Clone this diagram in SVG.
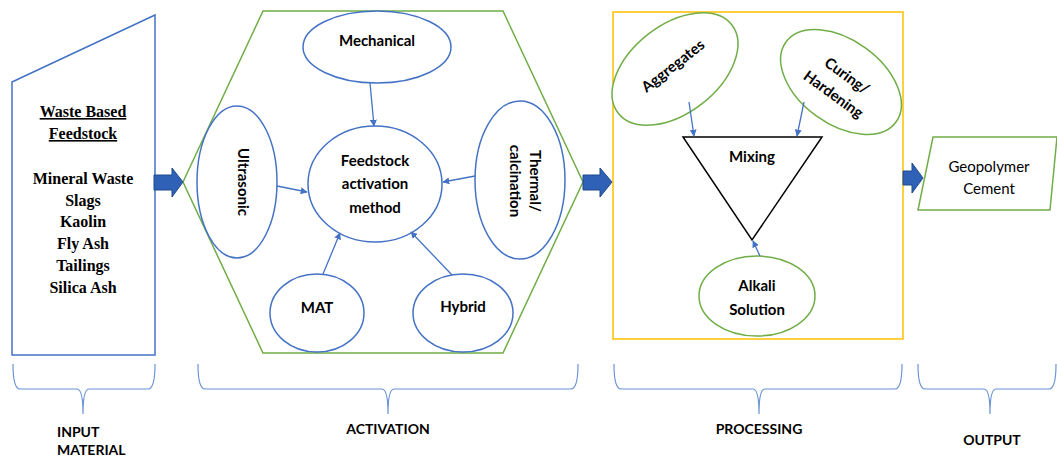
<svg xmlns="http://www.w3.org/2000/svg" width="1057" height="458" viewBox="0 0 1057 458">
<style>
.bl{fill:#fff;stroke:#4472C4;stroke-width:1.5}
.gr{fill:#fff;stroke:#70AD47;stroke-width:1.5}
.t{font-family:Lato,"Liberation Sans",sans-serif;font-weight:bold;font-size:15px;fill:#000;text-anchor:middle}
.n{font-family:Lato,"Liberation Sans",sans-serif;font-size:15px;fill:#000;text-anchor:middle}
.tm{font-family:"Liberation Serif",serif;font-weight:bold;font-size:16px;fill:#000;text-anchor:middle}
.lb{font-family:Lato,"Liberation Sans",sans-serif;font-weight:bold;font-size:14px;fill:#000}
.con{stroke:#4472C4;stroke-width:1.3;fill:none;marker-end:url(#ah)}
.brace{stroke:#6A94D4;stroke-width:1.2;fill:none}
.big{fill:#2F62B6;stroke:#1F4A8E;stroke-width:1}
</style>
<defs>
<marker id="ah" viewBox="0 0 10 10" refX="9" refY="5" markerWidth="7" markerHeight="7" markerUnits="userSpaceOnUse" orient="auto">
<path d="M0,0 L10,5 L0,10 Z" fill="#4472C4"/>
</marker>
</defs>
<rect width="1057" height="458" fill="#fff"/>

<g id="input">
<polygon points="12,82 155,15 155,355 12,355" class="bl"/>
<text class="tm" x="83" y="117" text-decoration="underline">Waste Based</text>
<text class="tm" x="83" y="139" text-decoration="underline">Feedstock</text>
<text class="tm" x="83" y="184">Mineral Waste</text>
<text class="tm" x="83" y="206">Slags</text>
<text class="tm" x="83" y="227">Kaolin</text>
<text class="tm" x="83" y="249">Fly Ash</text>
<text class="tm" x="83" y="271">Tailings</text>
<text class="tm" x="83" y="293">Silica Ash</text>
</g>

<g id="activation">
<polygon points="263,11 503,11 583,182 503,353 263,353 183,182" fill="none" stroke="#70AD47" stroke-width="1.5"/>
</g>
<g id="mechanical">
<ellipse cx="377" cy="47" rx="74" ry="36" class="bl"/>
<text class="t" x="377" y="46">Mechanical</text>
</g>
<g id="feedstock">
<ellipse cx="375" cy="184" rx="67" ry="58" class="bl"/>
<text class="t" x="375" y="166">Feedstock</text>
<text class="t" x="375" y="189">activation</text>
<text class="t" x="375" y="213">method</text>
</g>
<g id="ultrasonic">
<ellipse cx="237" cy="182" rx="40" ry="76" class="bl"/>
<text class="t" transform="translate(243,182) rotate(90)" x="0" y="5">Ultrasonic</text>
</g>
<g id="thermal">
<ellipse cx="520" cy="180" rx="45" ry="79" class="bl"/>
<g transform="translate(525,181) rotate(90)">
<text class="t" x="0" y="-5">Thermal/</text>
<text class="t" x="0" y="15">calcination</text>
</g>
</g>
<g id="mat">
<ellipse cx="317" cy="313" rx="47" ry="39" class="bl"/>
<text class="t" x="317" y="313">MAT</text>
</g>
<g id="hybrid">
<ellipse cx="463" cy="313" rx="50" ry="39" class="bl"/>
<text class="t" x="463" y="312">Hybrid</text>
</g>

<g id="processing">
<rect x="613" y="12" width="290" height="327" fill="none" stroke="#FFC000" stroke-width="1.5"/>
</g>
<g id="aggregates">
<ellipse cx="675" cy="69" rx="72" ry="44" transform="rotate(-38 675 69)" class="gr"/>
<text class="t" transform="translate(673,66) rotate(-38)" x="0" y="5">Aggregates</text>
</g>
<g id="curing">
<ellipse cx="841" cy="82" rx="68" ry="42" transform="rotate(36 841 82)" class="gr"/>
<g transform="translate(841,84) rotate(36)">
<text class="t" x="0" y="-5">Curing/</text>
<text class="t" x="0" y="18">Hardening</text>
</g>
</g>
<g id="mixing">
<polygon points="683,137 822,137 752,240" fill="#fff" stroke="#000" stroke-width="1.5"/>
<text class="t" x="752" y="162">Mixing</text>
</g>
<g id="alkali">
<ellipse cx="757" cy="296" rx="58" ry="40" class="gr"/>
<text class="t" x="757" y="291">Alkali</text>
<text class="t" x="757" y="315">Solution</text>
</g>

<g id="output">
<polygon points="933,137 1057,137 1050,210 918,210" class="gr"/>
<text class="n" x="989" y="172">Geopolymer</text>
<text class="n" x="989" y="194">Cement</text>
</g>

<g id="connectors">
<path class="con" d="M370,83 L374,126"/>
<path class="con" d="M277,186 L307,192"/>
<path class="con" d="M475,176 L443,182"/>
<path class="con" d="M323,274 L340,233"/>
<path class="con" d="M452,275 L411,232"/>
<path class="con" d="M689,102 L694,136"/>
<path class="con" d="M804,102 L797,136"/>
<path class="con" d="M760,256 L753,241"/>
<path class="big" d="M154,175 H172 V168 L183,182 L172,197 V190 H154 Z"/>
<path class="big" d="M583,175 H600 V168 L612,182 L600,197 V190 H583 Z"/>
<path class="big" d="M903,171 H912 V163 L923,178 L912,193 V185 H903 Z"/>
</g>

<g id="braces">
<path class="brace" d="M13,364 Q13,389 20,389 H77 Q83,389 83,414 Q83,389 89,389 H148 Q155,389 155,364"/>
<path class="brace" d="M198,364 Q198,389 205,389 H382 Q388,389 388,414 Q388,389 394,389 H571 Q578,389 578,364"/>
<path class="brace" d="M614,364 Q614,389 621,389 H753 Q759,389 759,414 Q759,389 765,389 H895 Q902,389 902,364"/>
<path class="brace" d="M918,364 Q918,389 925,389 H984 Q990,389 990,414 Q990,389 996,389 H1049 Q1056,389 1056,364"/>
<text class="lb" x="57" y="437">INPUT</text>
<text class="lb" x="57" y="455">MATERIAL</text>
<text class="lb" x="388" y="434" text-anchor="middle">ACTIVATION</text>
<text class="lb" x="759" y="434" text-anchor="middle">PROCESSING</text>
<text class="lb" x="992" y="445" text-anchor="middle">OUTPUT</text>
</g>
</svg>
